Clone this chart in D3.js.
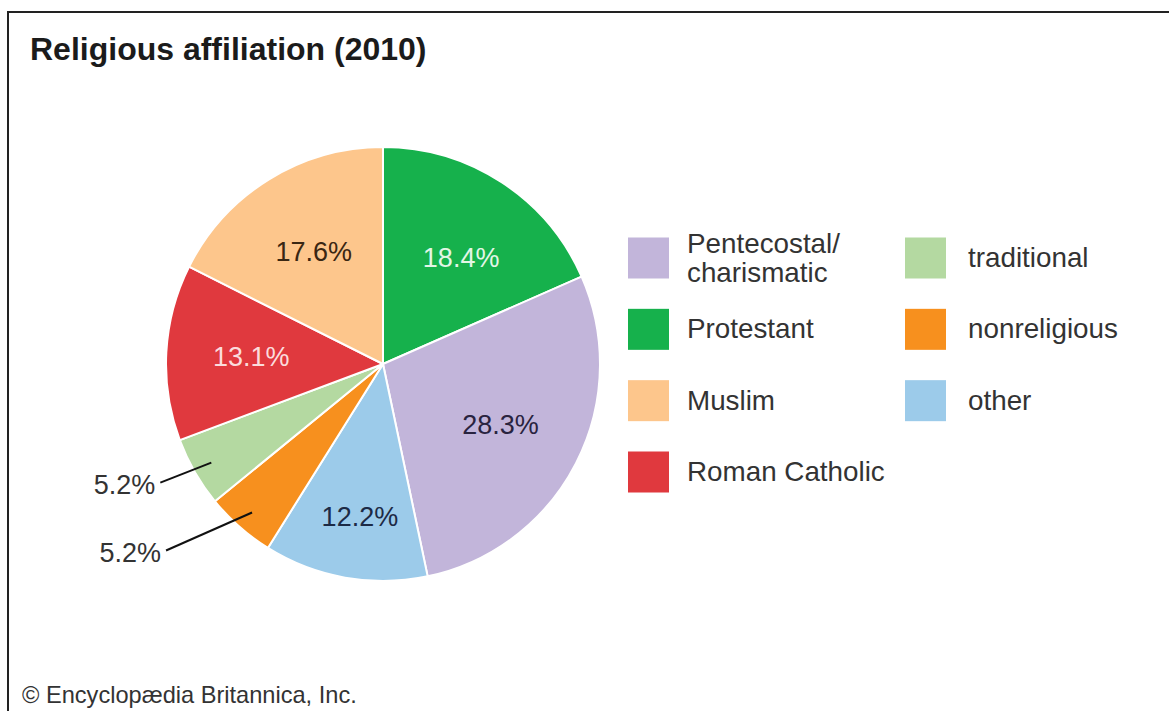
<!DOCTYPE html>
<html>
<head>
<meta charset="utf-8">
<script src="https://cdn.jsdelivr.net/npm/d3@7"></script>
<style>
  html, body { margin: 0; padding: 0; background: #fff; }
  svg { display: block; font-family: "Liberation Sans", Arial, Helvetica, sans-serif; }
</style>
</head>
<body>
<div id="chart"></div>
<script>
// data, in pie order (clockwise from 12 o'clock)
const categories = ['Protestant', 'Pentecostal/charismatic', 'other', 'nonreligious', 'traditional', 'Roman Catholic', 'Muslim'];
const shares = [18.4, 28.3, 12.2, 5.2, 5.2, 13.1, 17.6];
const colors = ['#16b14c', '#c2b5da', '#9ccbea', '#f7901e', '#b4d9a1', '#e0393e', '#fdc68c'];
const labelColors = ['#e3f6e6', '#29233f', '#1c2a45', '#333', '#333', '#fbdcdc', '#3a2713'];
// legend: two columns
const legendCol1 = ['Pentecostal/charismatic', 'Protestant', 'Muslim', 'Roman Catholic'];
const legendCol2 = ['traditional', 'nonreligious', 'other'];

const W = 1169, H = 711;
const svg = d3.select('#chart').append('svg').attr('width', W).attr('height', H);

// frame
svg.append('path')
  .attr('d', `M8,${H} L8,12 L${W},12`)
  .attr('fill', 'none').attr('stroke', '#222').attr('stroke-width', 2);

svg.append('text')
  .attr('x', 30).attr('y', 60)
  .attr('font-size', 32).attr('font-weight', 'bold').attr('fill', '#1b1b1b')
  .text('Religious affiliation (2010)');

svg.append('text')
  .attr('x', 22).attr('y', 703)
  .attr('font-size', 23.6).attr('fill', '#333')
  .text('© Encyclopædia Britannica, Inc.');

const rows = categories.map((c, i) => ({ cat: c, value: shares[i], color: colors[i], lc: labelColors[i] }));
const cx = 383, cy = 364, R = 217;

const pie = d3.pie().value(d => d.value).sort(null);
const arc = d3.arc().innerRadius(0).outerRadius(R);
const labelArc = d3.arc().innerRadius(132).outerRadius(132);
const pointArc = d3.arc().innerRadius(198).outerRadius(198);

const g = svg.append('g').attr('transform', `translate(${cx},${cy})`);
const arcs = pie(rows);

g.selectAll('path.slice')
  .data(arcs)
  .join('path')
  .attr('class', 'slice')
  .attr('d', arc)
  .attr('fill', d => d.data.color)
  .attr('stroke', '#fff')
  .attr('stroke-width', 2)
  .attr('stroke-linejoin', 'round');

// small slices get a callout line, others a label inside
const callout = { 'traditional': [-51, 20], 'nonreligious': [-86, 38] };
const nudge = { 'other': [0, 23], 'Protestant': [6, 4] };
const fmt = v => v.toFixed(1) + '%';

const inside = arcs.filter(d => !callout[d.data.cat]);
g.selectAll('text.inlabel')
  .data(inside)
  .join('text')
  .attr('class', 'inlabel')
  .attr('transform', d => {
    const [x, y] = labelArc.centroid(d);
    const n = nudge[d.data.cat] || [0, 0];
    return `translate(${x + n[0]},${y + n[1]})`;
  })
  .attr('text-anchor', 'middle')
  .attr('dy', '0.35em')
  .attr('font-size', 27)
  .attr('fill', d => d.data.lc)
  .text(d => fmt(d.data.value));

const outside = arcs.filter(d => callout[d.data.cat]);
outside.forEach(d => {
  const [x0, y0] = pointArc.centroid(d);
  const off = callout[d.data.cat];
  const x1 = x0 + off[0], y1 = y0 + off[1];
  g.append('line')
    .attr('x1', x0).attr('y1', y0).attr('x2', x1).attr('y2', y1)
    .attr('stroke', '#111').attr('stroke-width', 2);
  g.append('text')
    .attr('x', x1 - 5).attr('y', y1 + 2)
    .attr('text-anchor', 'end').attr('dy', '0.35em')
    .attr('font-size', 27).attr('fill', '#333')
    .text(fmt(d.data.value));
});

// legend
const colorOf = d3.scaleOrdinal().domain(categories).range(colors);
const rowY = d3.scalePoint().domain(d3.range(4)).range([258, 472]);
const sq = 41;

function legendColumn(items, x, gap) {
  const lg = svg.append('g');
  items.forEach((name, i) => {
    const y = rowY(i);
    lg.append('rect')
      .attr('x', x).attr('y', y - sq / 2).attr('width', sq).attr('height', sq)
      .attr('fill', colorOf(name));
    const parts = name === 'Pentecostal/charismatic' ? ['Pentecostal/', 'charismatic'] : [name];
    const t = lg.append('text')
      .attr('x', x + gap).attr('font-size', 27.8).attr('fill', '#333');
    parts.forEach((p, k) => {
      t.append('tspan')
        .attr('x', x + gap)
        .attr('y', y + 9 + (k - (parts.length - 1) / 2) * 29)
        .text(p);
    });
  });
}
legendColumn(legendCol1, 628, 59);
legendColumn(legendCol2, 905, 63);
</script>
</body>
</html>
